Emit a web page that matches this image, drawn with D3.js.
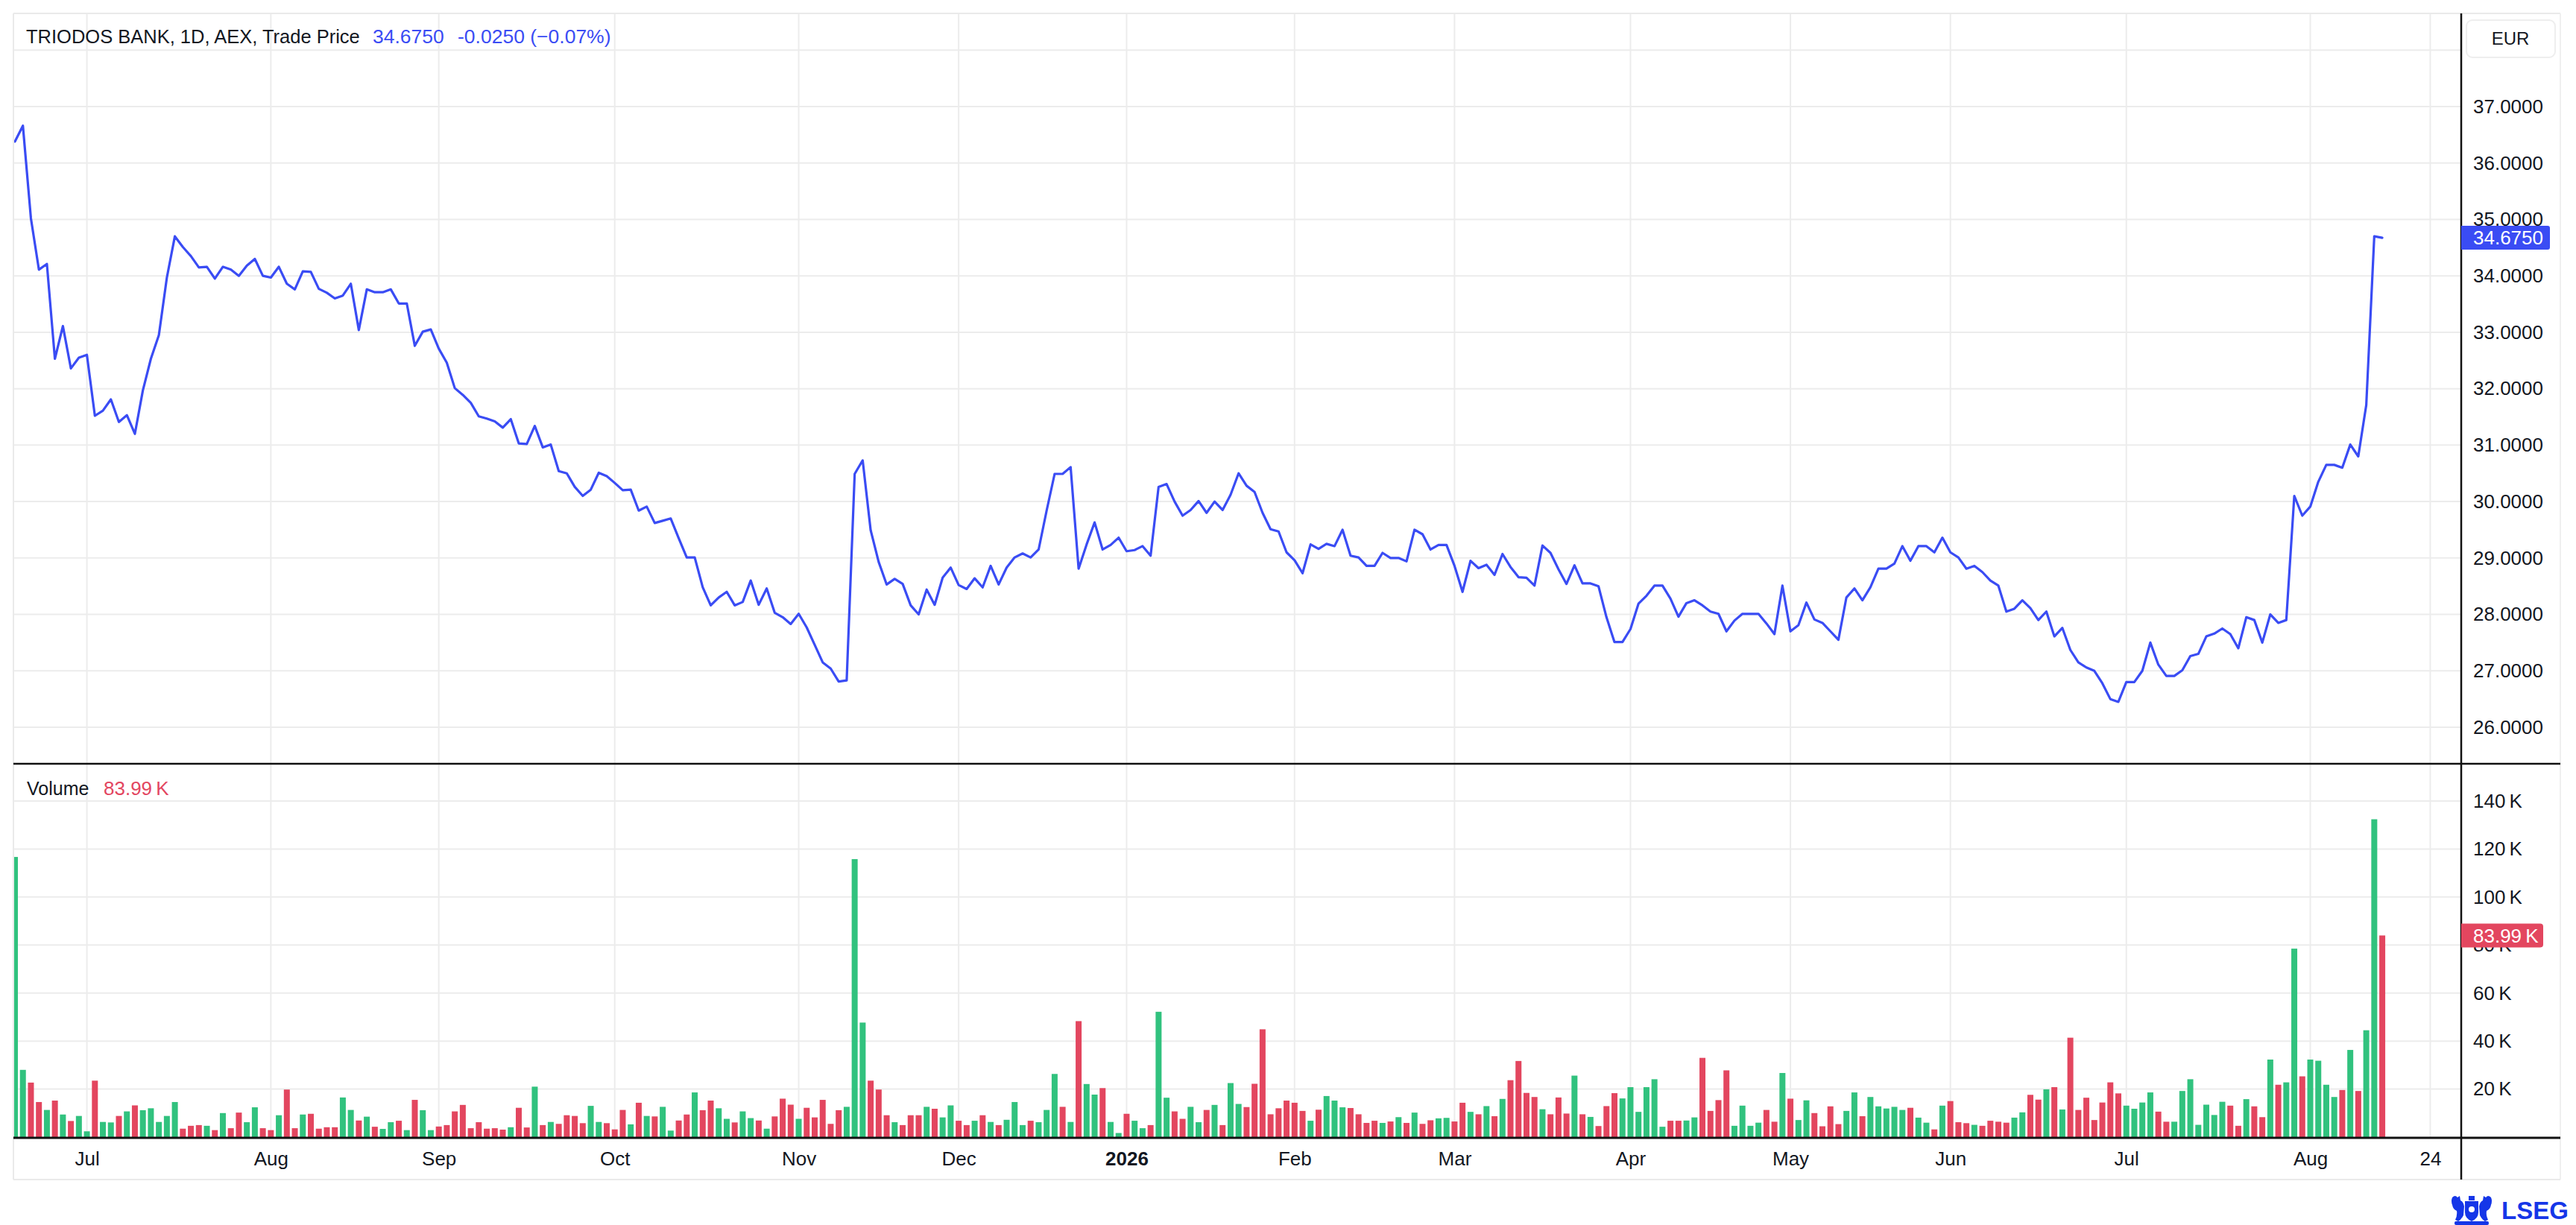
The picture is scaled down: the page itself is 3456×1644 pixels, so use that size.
<!DOCTYPE html>
<html>
<head>
<meta charset="utf-8">
<script src="https://cdn.jsdelivr.net/npm/d3@7/dist/d3.min.js"></script>
<style>
  html, body { margin: 0; padding: 0; background: #ffffff; }
  svg { display: block; font-family: "Liberation Sans", Arial, Helvetica, sans-serif; }
</style>
</head>
<body>
<svg id="chart" width="3456" height="1644"></svg>
<script>
// ---------------- DATA ----------------
const firstDate = "2025-06-18";
const axisEndDate = "2026-08-24";
const holidays = ["2025-12-25", "2025-12-26", "2026-01-01", "2026-04-03", "2026-04-06", "2026-05-01"];

const tickDates = ["2025-07-01","2025-08-01","2025-09-01","2025-10-01","2025-11-03","2025-12-01","2026-01-02",
                   "2026-02-02","2026-03-02","2026-04-01","2026-05-04","2026-06-01","2026-07-01","2026-08-03","2026-08-24"];
const tickLabels = ["Jul","Aug","Sep","Oct","Nov","Dec","2026","Feb","Mar","Apr","May","Jun","Jul","Aug","24"];

const priceTicks = [26, 27, 28, 29, 30, 31, 32, 33, 34, 35, 36, 37];
const priceGrid = [26, 27, 28, 29, 30, 31, 32, 33, 34, 35, 36, 37, 38];
const volumeTicks = [20, 40, 60, 80, 100, 120, 140];

// Trade price (EUR), one per trading day
const price = [
36.38,36.66,35.02,34.11,34.21,32.53,33.11,32.36,32.55,32.60,
31.52,31.61,31.81,31.41,31.53,31.20,31.97,32.53,32.95,33.97,
34.70,34.51,34.35,34.15,34.16,33.95,34.16,34.11,34.00,34.18,
34.30,34.00,33.97,34.16,33.86,33.76,34.08,34.07,33.77,33.70,
33.60,33.65,33.86,33.04,33.76,33.71,33.71,33.76,33.51,33.51,
32.76,33.01,33.05,32.71,32.46,32.01,31.89,31.75,31.51,31.47,
31.42,31.31,31.46,31.03,31.02,31.34,30.96,31.01,30.54,30.50,
30.26,30.10,30.21,30.51,30.45,30.33,30.20,30.21,29.84,29.91,
29.62,29.66,29.70,29.35,29.01,29.01,28.48,28.16,28.30,28.40,
28.16,28.22,28.60,28.17,28.46,28.03,27.95,27.83,28.01,27.77,
27.46,27.15,27.04,26.81,26.83,30.49,30.73,29.49,28.93,28.53,
28.63,28.54,28.16,28.00,28.44,28.17,28.65,28.83,28.52,28.45,
28.64,28.48,28.86,28.53,28.83,29.01,29.08,29.01,29.15,29.84,
30.49,30.49,30.61,28.81,29.24,29.63,29.15,29.23,29.36,29.12,
29.14,29.21,29.04,30.26,30.31,30.00,29.75,29.85,30.01,29.80,
30.00,29.85,30.12,30.50,30.28,30.17,29.80,29.51,29.47,29.10,
28.96,28.73,29.24,29.16,29.25,29.21,29.50,29.04,29.01,28.86,
28.86,29.09,29.00,29.00,28.94,29.50,29.42,29.15,29.23,29.23,
28.86,28.40,28.95,28.82,28.88,28.70,29.07,28.84,28.66,28.65,
28.51,29.22,29.09,28.80,28.54,28.87,28.55,28.55,28.50,27.95,
27.51,27.51,27.74,28.19,28.33,28.51,28.51,28.28,27.96,28.20,
28.25,28.16,28.05,28.01,27.70,27.89,28.01,28.01,28.01,27.84,
27.65,28.51,27.70,27.81,28.21,27.91,27.85,27.70,27.55,28.30,
28.46,28.25,28.48,28.81,28.81,28.90,29.21,28.95,29.21,29.21,
29.10,29.36,29.10,29.01,28.81,28.86,28.75,28.60,28.51,28.05,
28.10,28.25,28.11,27.90,28.05,27.61,27.76,27.37,27.15,27.06,
27.00,26.78,26.50,26.45,26.80,26.80,27.00,27.50,27.11,26.91,
26.91,27.01,27.26,27.30,27.61,27.66,27.75,27.65,27.40,27.95,
27.90,27.50,28.00,27.85,27.90,30.10,29.75,29.91,30.35,30.65,
30.65,30.60,31.01,30.80,31.71,34.70,34.675
];

// Volume (thousands), one per trading day
const volume = [
116.7,28.0,22.7,14.6,11.3,15.2,9.4,6.7,8.8,2.4,
23.5,6.3,6.1,8.8,10.7,13.2,11.2,12.0,6.3,8.8,
14.6,3.5,4.7,5.0,4.7,2.9,10.0,3.7,10.2,6.2,
12.4,3.7,2.9,9.1,19.8,3.7,9.4,9.7,3.5,4.1,
4.1,16.5,11.3,6.9,8.5,4.3,3.4,6.2,6.8,2.9,
15.5,11.2,2.9,4.4,5.0,10.7,13.4,3.7,6.2,3.5,
3.7,3.1,4.1,12.2,4.0,21.0,5.0,6.3,5.5,9.1,
8.8,5.8,13.0,6.3,5.8,3.2,11.3,5.3,14.3,8.8,
8.6,12.6,2.7,6.9,9.4,18.6,11.2,15.2,12.0,7.6,
6.1,10.7,7.9,6.9,3.5,8.6,16.0,13.5,7.6,12.2,
8.2,15.5,5.5,11.2,12.6,115.8,47.7,23.5,19.8,9.1,
6.2,5.0,9.1,9.1,12.6,11.8,8.2,13.2,6.8,5.0,
6.8,9.1,6.3,5.0,7.2,14.6,5.0,6.8,6.2,11.3,
26.3,12.6,6.3,48.3,22.1,17.7,20.4,6.3,1.7,9.7,
6.8,3.7,5.0,52.2,16.4,10.7,7.6,12.6,6.2,11.3,
13.4,5.0,22.5,13.8,12.5,22.2,44.9,9.5,12.0,15.2,
14.3,10.9,6.8,11.4,17.1,15.2,12.4,12.1,9.5,5.9,
6.8,5.9,6.5,8.3,5.9,10.2,5.5,7.0,7.8,8.0,
6.5,14.3,10.5,9.5,12.9,8.7,15.9,23.7,31.7,18.4,
16.7,11.6,9.5,16.5,9.8,25.6,9.5,8.4,4.6,12.9,
18.3,16.1,20.8,10.5,20.8,24.1,4.3,6.8,6.8,6.9,
8.2,33.0,10.9,15.4,27.8,4.7,13.1,4.7,6.0,11.3,
6.4,26.7,16.0,7.1,15.3,10.0,4.5,12.8,5.4,10.9,
18.6,8.7,16.7,12.8,11.9,12.6,11.3,12.2,8.1,6.0,
3.2,13.1,15.0,6.2,5.8,5.1,4.7,6.8,6.4,6.0,
8.1,10.3,17.6,15.6,19.9,20.8,11.5,41.4,11.3,16.4,
7.1,14.4,22.8,18.2,13.1,11.8,14.4,18.6,10.6,6.4,
6.4,19.2,24.1,5.1,13.5,9.2,14.7,13.1,4.7,15.8,
12.8,8.3,32.3,21.8,22.8,78.5,25.3,32.3,31.8,21.8,
16.7,19.6,36.3,19.2,44.5,132.4,83.99
];

// Bar direction: g = up day, r = down day
const volumeDirection = (
"ggrrgrgrgg" + "rggrgrgggg" + "grrrgrgrrg" + "grrgrrgrrr" + "rggrgrggrg" +
"rggrrrrrrr" + "rrgrrgrgrr" + "rrggrrrgrg" + "rggrrgrrgg" + "rggrgrrrgr" +
"rrrrgggrrr" + "grrrgrggrr" + "grgrgggrgg" + "grgrggrggr" + "ggrggrrggr" +
"grggrrrrrr" + "rrgrgggrrr" + "rgrgrgrrgg" + "rrgrgrgrrr" + "rgrrrgrgrr" +
"rggggggrrg" + "grrrrggggr" + "rgrggrrrrg" + "grgggggrgg" + "rgrrrgrrrr" +
"ggrrgrgrrr" + "rrrrggggrr" + "gggggggrrg" + "rrgrggrggg" + "grgrggr").split("");

const lastPrice = 34.675;
const lastVolume = 83.99;

// ---------------- CALENDAR ----------------
function tradingDays(startStr, endStr, hol) {
  const out = [];
  const holSet = new Set(hol);
  const d = new Date(startStr + "T00:00:00Z");
  const end = new Date(endStr + "T00:00:00Z");
  while (d <= end) {
    const wd = d.getUTCDay();
    const s = d.toISOString().slice(0, 10);
    if (wd !== 0 && wd !== 6 && !holSet.has(s)) out.push(s);
    d.setUTCDate(d.getUTCDate() + 1);
  }
  return out;
}
const axisDays = tradingDays(firstDate, axisEndDate, holidays);
const dayIndex = new Map(axisDays.map((s, i) => [s, i]));
const tickIdx = tickDates.map(s => dayIndex.get(s));

// ---------------- LAYOUT ----------------
const W = 3456, H = 1644;
const L = 18, R = 3302, RR = 3435;
const TOP = 18, SEP = 1025, VBOT = 1527, XBOT = 1583;
const BLUE = "#3a4cf4", GREEN = "#31c27e", RED = "#e3465f";
const GRID = "#ececec", INK = "#131722";

const x = d3.scaleLinear().domain([0, axisDays.length - 1]).range([20, 20 + (axisDays.length - 1) * 10.73]);
const yP = d3.scaleLinear().domain([26, 37]).range([976, 143]);
const yV = d3.scaleLinear().domain([0, 140]).range([1526, 1075]);

const svg = d3.select("#chart");
svg.append("rect").attr("width", W).attr("height", H).attr("fill", "#fff");

const defs = svg.append("defs");
defs.append("clipPath").attr("id", "clipP").append("rect").attr("x", L).attr("y", TOP).attr("width", R - L).attr("height", SEP - TOP);
defs.append("clipPath").attr("id", "clipV").append("rect").attr("x", L).attr("y", SEP).attr("width", R - L).attr("height", VBOT - SEP);

// Grid
const grid = svg.append("g");
grid.selectAll(".hp").data(priceGrid).join("line")
  .attr("x1", L).attr("x2", R).attr("y1", d => yP(d)).attr("y2", d => yP(d))
  .attr("stroke", GRID).attr("stroke-width", 2)
  .attr("clip-path", "url(#clipP)");
grid.selectAll(".hv").data(volumeTicks).join("line")
  .attr("x1", L).attr("x2", R).attr("y1", d => yV(d)).attr("y2", d => yV(d))
  .attr("stroke", GRID).attr("stroke-width", 2);
grid.selectAll(".vx").data(tickIdx).join("line")
  .attr("x1", d => x(d)).attr("x2", d => x(d)).attr("y1", TOP).attr("y2", VBOT)
  .attr("stroke", GRID).attr("stroke-width", 2);

// Frame
const frame = svg.append("g");
frame.append("line").attr("x1", L).attr("x2", RR).attr("y1", TOP).attr("y2", TOP).attr("stroke", "#eaeaea").attr("stroke-width", 2);
frame.append("line").attr("x1", L).attr("x2", L).attr("y1", TOP).attr("y2", XBOT).attr("stroke", "#eaeaea").attr("stroke-width", 2);
frame.append("line").attr("x1", RR).attr("x2", RR).attr("y1", TOP).attr("y2", XBOT).attr("stroke", "#f0f0f0").attr("stroke-width", 2);
frame.append("line").attr("x1", L).attr("x2", RR).attr("y1", XBOT).attr("y2", XBOT).attr("stroke", "#eaeaea").attr("stroke-width", 2);

// Volume bars
svg.append("g").attr("clip-path", "url(#clipV)")
  .selectAll("rect").data(volume).join("rect")
  .attr("x", (d, i) => x(i) - 4)
  .attr("width", 8)
  .attr("y", d => yV(d))
  .attr("height", d => yV(0) - yV(d))
  .attr("fill", (d, i) => volumeDirection[i] === "g" ? GREEN : RED);

// Price line
const line = d3.line().x((d, i) => x(i)).y(d => yP(d)).curve(d3.curveLinear);
svg.append("path").datum(price)
  .attr("clip-path", "url(#clipP)")
  .attr("d", line).attr("fill", "none").attr("stroke", BLUE)
  .attr("stroke-width", 3.2).attr("stroke-linejoin", "round").attr("stroke-linecap", "round");

// Pane separators and axis lines
frame.raise();
svg.append("line").attr("x1", L).attr("x2", RR).attr("y1", SEP).attr("y2", SEP).attr("stroke", "#111").attr("stroke-width", 2.5);
svg.append("line").attr("x1", L).attr("x2", RR).attr("y1", VBOT).attr("y2", VBOT).attr("stroke", "#111").attr("stroke-width", 3);
svg.append("line").attr("x1", R).attr("x2", R).attr("y1", TOP).attr("y2", XBOT).attr("stroke", "#111").attr("stroke-width", 2.5);

// Price axis
const pAxis = svg.append("g").attr("transform", `translate(${R},0)`)
  .call(d3.axisRight(yP).tickValues(priceTicks).tickFormat(d3.format(".4f")).tickSize(0).tickPadding(16));
pAxis.select(".domain").remove();
pAxis.selectAll("text").attr("font-size", 26).attr("fill", INK).attr("font-family", "Liberation Sans, Arial, sans-serif");

// Volume axis
const vAxis = svg.append("g").attr("transform", `translate(${R},0)`)
  .call(d3.axisRight(yV).tickValues(volumeTicks).tickFormat(d => d + "\u2009K").tickSize(0).tickPadding(16));
vAxis.select(".domain").remove();
vAxis.selectAll("text").attr("font-size", 26).attr("fill", INK).attr("font-family", "Liberation Sans, Arial, sans-serif");

// Time axis
const xAxis = svg.append("g").attr("transform", `translate(0,${VBOT})`)
  .call(d3.axisBottom(x).tickValues(tickIdx).tickFormat((d, i) => tickLabels[i]).tickSize(0).tickPadding(19));
xAxis.select(".domain").remove();
xAxis.selectAll("text").attr("font-size", 26).attr("fill", INK).attr("font-family", "Liberation Sans, Arial, sans-serif")
  .attr("font-weight", (d, i) => tickLabels[i] === "2026" ? "bold" : "normal");

// Last price badge
const pb = svg.append("g");
pb.append("path")
  .attr("d", `M${R},${yP(lastPrice) - 16} H${R + 116} a3,3 0 0 1 3,3 V${yP(lastPrice) + 13} a3,3 0 0 1 -3,3 H${R} Z`)
  .attr("fill", BLUE);
pb.append("text").attr("x", R + 16).attr("y", yP(lastPrice)).attr("dy", "0.35em")
  .attr("font-size", 26).attr("fill", "#fff").text(d3.format(".4f")(lastPrice));

// Last volume badge
const vb = svg.append("g");
vb.append("path")
  .attr("d", `M${R},${yV(lastVolume) - 16} H${R + 106} a4,4 0 0 1 4,4 V${yV(lastVolume) + 12} a4,4 0 0 1 -4,4 H${R} Z`)
  .attr("fill", RED);
vb.append("text").attr("x", R + 16).attr("y", yV(lastVolume)).attr("dy", "0.35em")
  .attr("font-size", 26).attr("fill", "#fff").text(lastVolume.toFixed(2) + "\u2009K");

// Currency box
svg.append("rect").attr("x", 3309).attr("y", 27).attr("width", 119).attr("height", 50).attr("rx", 8)
  .attr("fill", "#fff").attr("stroke", "#eeeeee").attr("stroke-width", 2);
svg.append("text").attr("x", 3368).attr("y", 52).attr("dy", "0.35em").attr("text-anchor", "middle")
  .attr("font-size", 24).attr("fill", INK).text("EUR");

// Title / legend
svg.append("text").attr("x", 35).attr("y", 58).attr("font-size", 25.5).attr("fill", INK).text("TRIODOS BANK, 1D, AEX, Trade Price");
svg.append("text").attr("x", 500).attr("y", 58).attr("font-size", 26.5).attr("fill", BLUE).text("34.6750");
svg.append("text").attr("x", 614).attr("y", 58).attr("font-size", 26.5).attr("fill", BLUE).text("-0.0250 (\u22120.07%)");

svg.append("text").attr("x", 36).attr("y", 1067).attr("font-size", 25).attr("fill", INK).text("Volume");
svg.append("text").attr("x", 139).attr("y", 1067).attr("font-size", 26).attr("fill", RED).text(lastVolume.toFixed(2) + "\u2009K");

// LSEG logo (simplified crest + wordmark)
const LOGO = "#1536e8";
const logo = svg.append("g").attr("transform", "translate(3288,1603)");
logo.append("path").attr("fill", LOGO)
  .attr("d", "M19,9 H37 V24 Q37,32 28,36 Q19,32 19,24 Z");
logo.append("path").attr("fill", LOGO)
  .attr("d", "M2,4 Q6,0 9,4 L12,2 L13,8 Q17,10 18,16 L17,28 Q14,34 10,36 L6,34 Q9,28 8,22 Q3,20 2,14 Q0,9 2,4 Z");
logo.append("path").attr("fill", LOGO)
  .attr("d", "M54,4 Q50,0 47,4 L44,2 L43,8 Q39,10 38,16 L39,28 Q42,34 46,36 L50,34 Q47,28 48,22 Q53,20 54,14 Q56,9 54,4 Z");
logo.append("rect").attr("x", 5).attr("y", 36).attr("width", 46).attr("height", 5).attr("rx", 2).attr("fill", LOGO);
logo.append("rect").attr("x", 24).attr("y", 2).attr("width", 8).attr("height", 6).attr("fill", LOGO);
logo.append("circle").attr("cx", 28).attr("cy", 20).attr("r", 4).attr("fill", "#fff");
svg.append("text").attr("x", 3356).attr("y", 1636).attr("font-size", 33).attr("font-weight", "bold")
  .attr("fill", LOGO).attr("font-family", "Liberation Sans, Arial, sans-serif").text("LSEG");
</script>
</body>
</html>
